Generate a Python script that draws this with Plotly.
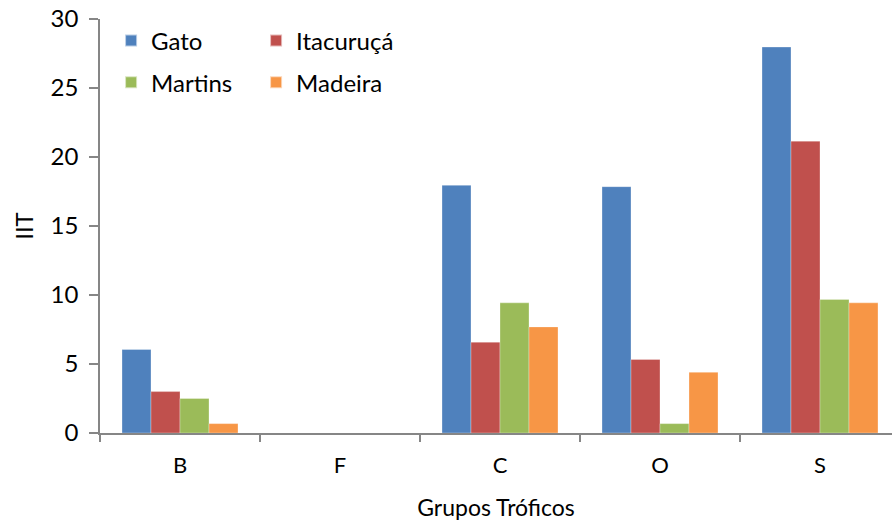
import plotly.graph_objects as go

# Trophic groups and IIT values per site
groups = ["B", "F", "C", "O", "S"]
gato = [6.05, 0, 17.95, 17.85, 27.97]
itacuruca = [3.0, 0, 6.58, 5.33, 21.15]
martins = [2.5, 0, 9.43, 0.68, 9.68]
madeira = [0.68, 0, 7.69, 4.4, 9.43]

series = [
    ("Gato", gato, "#4F81BD", "legend"),
    ("Itacuruçá", itacuruca, "#C0504D", "legend"),
    ("Martins", martins, "#9BBB59", "legend2"),
    ("Madeira", madeira, "#F79646", "legend2"),
]

FONT = "Lato, Open Sans, sans-serif"
AXIS_COLOR = "#868686"

fig = go.Figure()
for name, vals, color, leg in series:
    fig.add_trace(go.Bar(
        x=groups, y=vals, name=name, legend=leg,
        marker=dict(color=color, line=dict(color="rgba(255,255,255,0.6)", width=0.5)),
    ))

legend_style = dict(
    orientation="h", xanchor="left", yanchor="middle",
    entrywidth=100, entrywidthmode="pixels",
    font=dict(family=FONT, size=24, color="#000000"),
    bgcolor="rgba(0,0,0,0)", itemsizing="constant",
)

fig.update_layout(
    width=892, height=521,
    margin=dict(l=100, r=0, t=19, b=88),
    paper_bgcolor="white", plot_bgcolor="white",
    barmode="group", bargap=0.275, bargroupgap=0,
    font=dict(family=FONT, size=24, color="#000000"),
    legend=dict(x=0.014, y=0.947, **legend_style),
    legend2=dict(x=0.014, y=0.846, **legend_style),
)

# last category is cut at the right edge, like the original
fig.update_xaxes(
    range=[-0.5, 4.45], automargin=False,
    showline=True, linecolor=AXIS_COLOR, linewidth=1.5,
    ticks="outside", tickson="boundaries", ticklen=7, tickcolor=AXIS_COLOR, tickwidth=1.5,
    tickfont=dict(family=FONT, size=22),
    ticklabelstandoff=12,
    showgrid=False,
    title=dict(text="Grupos Tróficos", font=dict(family=FONT, size=23), standoff=23),
)
fig.update_yaxes(
    range=[0, 30], dtick=5, automargin=False,
    showline=True, linecolor=AXIS_COLOR, linewidth=1.5,
    ticks="outside", ticklen=9, tickcolor=AXIS_COLOR, tickwidth=1.5,
    tickfont=dict(family=FONT, size=24),
    ticklabelstandoff=6, ticklabeloverflow="allow",
    showgrid=False, zeroline=False,
    title=dict(text="IIT", font=dict(family=FONT, size=24), standoff=10),
)

# drop the default body margin so the figure sits at the page corner
fig.write_html(
    "out.html",
    config={"displayModeBar": False},
    post_script="document.body.style.margin='0';",
)
